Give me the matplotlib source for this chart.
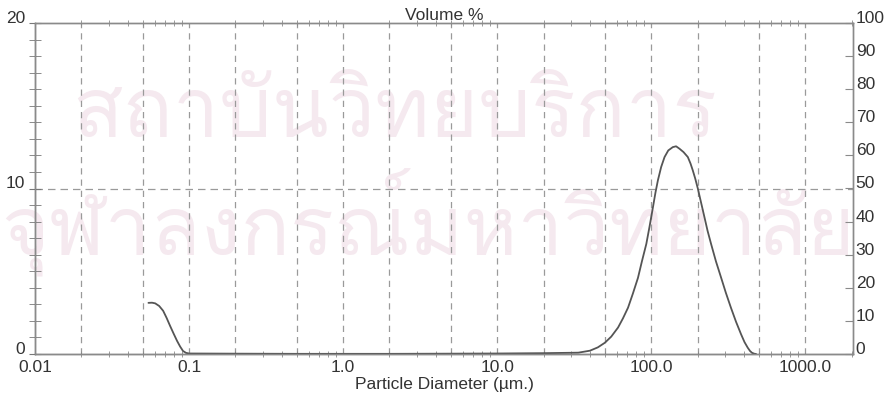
import matplotlib
matplotlib.use("Agg")
import matplotlib.pyplot as plt
from matplotlib import font_manager
from matplotlib.ft2font import FT2Font
from matplotlib.ticker import FixedLocator, NullFormatter

# Particle size distribution (volume %)
diameter_um = [0.0545, 0.0575, 0.0603, 0.064, 0.0679, 0.0715, 0.0753, 0.0795,
               0.0836, 0.0875, 0.0914, 0.0955, 0.1, 0.2, 0.5, 1.0, 2.0, 5.0,
               10.0, 20.0, 33.6, 40.0, 45.0, 50.0, 55.0, 60.9, 65.5, 70.7,
               76.0, 82.0, 87.0, 92.9, 97.5, 102.6, 106.5, 110.5, 116.0,
               122.0, 129.0, 138.0, 145.0, 152.7, 162.0, 172.8, 180.0, 186.0,
               193.0, 200.6, 210.0, 221.6, 232.0, 244.6, 263.0, 284.0, 305.0,
               329.0, 355.0, 383.0, 403.0, 423.0, 438.0, 450.0, 465.0, 479.0]
volume_pct = [3.09, 3.10, 3.06, 2.90, 2.61, 2.18, 1.70, 1.22,
              0.79, 0.45, 0.18, 0.07, 0.03, 0.02, 0.01, 0.01, 0.01, 0.02,
              0.03, 0.05, 0.08, 0.20, 0.40, 0.68, 1.05, 1.60, 2.15, 2.80,
              3.65, 4.60, 5.60, 6.65, 7.70, 8.87, 9.75, 10.5, 11.3,
              11.9, 12.3, 12.5, 12.55, 12.4, 12.2, 11.9, 11.5, 11.1,
              10.6, 10.0, 9.20, 8.26, 7.45, 6.65, 5.60, 4.62, 3.70,
              2.80, 1.95, 1.19, 0.72, 0.38, 0.18, 0.08, 0.02, 0.0]

x_tick_values = [0.01, 0.1, 1.0, 10.0, 100.0, 1000.0]
x_tick_labels = ["0.01", "0.1", "1.0", "10.0", "100.0", "1000.0"]
grid_values = [0.02, 0.05, 0.1, 0.2, 0.5, 1, 2, 5, 10, 20, 50, 100, 200, 500, 1000]
left_ticks = [0, 10, 20]
right_ticks = list(range(0, 101, 10))
watermark_lines = ["สถาบันวิทยบริการ", "จุฬาลงกรณ์มหาวิทยาลัย"]

W, H = 884, 396
TEXT = "#333333"
FRAME = "#8a8a8a"
GRID = "#9a9a9a"
FS = 12.5

plt.rcParams["font.family"] = ["Liberation Sans", "DejaVu Sans"]
plt.rcParams["font.size"] = FS


def thai_family():
    for f in font_manager.fontManager.ttflist:
        try:
            cmap = FT2Font(f.fname).get_charmap()
        except Exception:
            continue
        if 0x0E2A in cmap and 0x0E13 in cmap:
            return f.name
    return None


fig = plt.figure(figsize=(W / 100, H / 100), dpi=100)
fig.patch.set_facecolor("white")

ax = fig.add_axes([35 / W, 1 - 354 / H, (853 - 35) / W, (354 - 23) / H])
ax.patch.set_visible(False)

# faint background watermark
fam = thai_family()
if fam is not None:
    renderer = fig.canvas.get_renderer()
    spans = [(72, 717, 137), (1, 855, 255)]
    for txt, (x0, x1, base) in zip(watermark_lines, spans):
        t = fig.text(x0 / W, 1 - base / H, txt, family=fam, fontsize=100,
                     color="#f5e9ef", ha="left", va="baseline", zorder=-5)
        w = t.get_window_extent(renderer).width
        t.set_fontsize(100 * (x1 - x0) / w)

ax.set_xscale("log")
ax.set_xlim(0.01, 2040)
ax.set_ylim(0, 20)

for g in grid_values:
    ax.axvline(g, color=GRID, lw=0.9, ls=(0, (5, 4)), zorder=1)
ax.axhline(10, color=GRID, lw=0.9, ls=(0, (6, 4)), zorder=1)

ax.plot(diameter_um, volume_pct, color="#555555", lw=1.3, zorder=3,
        solid_joinstyle="round", solid_capstyle="round")

for s in ax.spines.values():
    s.set_color(FRAME)
    s.set_linewidth(1.0)
ax.spines["bottom"].set_color("#6a6a6a")
ax.spines["left"].set_color("#6a6a6a")

# x axis
ax.xaxis.set_major_locator(FixedLocator(x_tick_values))
ax.set_xticklabels(x_tick_labels, color=TEXT, fontsize=FS)
minor = [m * 10.0 ** e for e in range(-2, 4) for m in range(2, 10)]
ax.xaxis.set_minor_locator(FixedLocator(minor))
ax.xaxis.set_minor_formatter(NullFormatter())
ax.tick_params(axis="x", which="major", length=0, pad=4)
ax.tick_params(axis="x", which="minor", direction="inout", length=4,
               color=FRAME, top=True, bottom=True)
ax.set_xlabel("Particle Diameter (µm.)", color=TEXT, fontsize=FS, labelpad=2)

# left axis
ax.set_yticks(left_ticks)
ax.set_yticklabels([str(v) for v in left_ticks], color=TEXT, fontsize=FS,
                   va="baseline")
ax.yaxis.set_minor_locator(FixedLocator(range(0, 21)))
ax.tick_params(axis="y", which="both", direction="inout", length=8,
               color="#777777", pad=3)

# right axis
ax2 = ax.twinx()
ax2.set_ylim(0, 100)
ax2.set_yticks(right_ticks)
ax2.set_yticklabels([str(v) for v in right_ticks], color=TEXT, fontsize=FS,
                    va="baseline")
ax2.tick_params(axis="y", direction="in", length=6, color=FRAME, pad=2)
for s in ax2.spines.values():
    s.set_color(FRAME)
    s.set_linewidth(1.0)

fig.text(444 / W, 1 - 15 / H, "Volume %", ha="center", va="center",
         color=TEXT, fontsize=FS)

fig.savefig("out.png", dpi=100, facecolor="white")
